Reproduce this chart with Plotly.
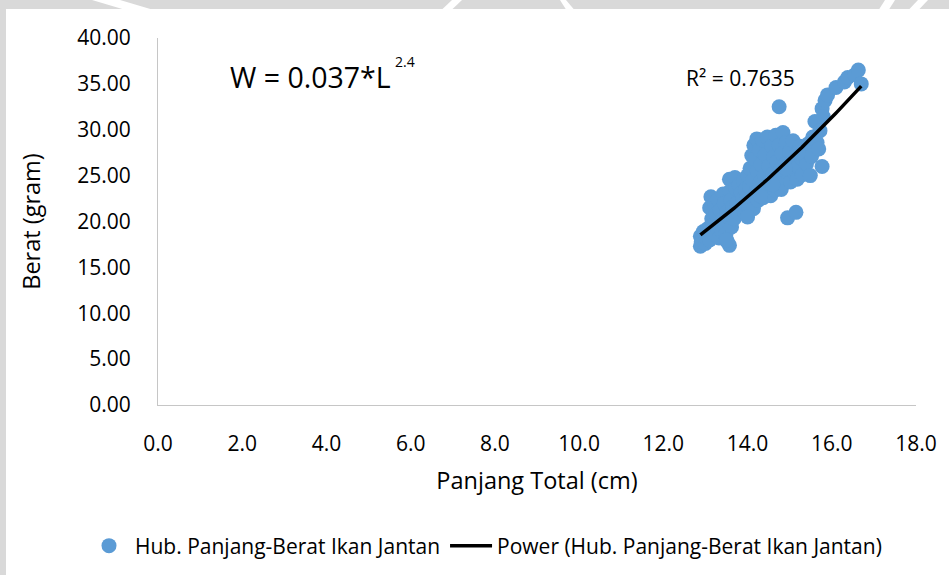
import plotly.graph_objects as go
import numpy as np

# ---- data ----
length_cm = [
    12.88, 12.88, 12.90, 12.95, 13.00, 13.02, 13.05, 13.10, 13.13, 13.10,
    13.15, 13.18, 13.20, 13.22, 13.25, 13.28, 13.30, 13.32, 13.35, 13.38,
    13.40, 13.42, 13.45, 13.47, 13.49, 13.50, 13.52, 13.55, 13.57, 13.57,
    13.58, 13.60, 13.62, 13.65, 13.68, 13.70, 13.72, 13.75, 13.78, 13.80,
    13.82, 13.85, 13.88, 13.90, 13.92, 13.95, 13.98, 14.00, 14.02, 14.05,
    14.06, 14.08, 14.10, 14.12, 14.14, 14.15, 14.18, 14.20, 14.22, 14.23,
    14.25, 14.28, 14.30, 14.32, 14.35, 14.37, 14.40, 14.42, 14.45, 14.47,
    14.50, 14.52, 14.55, 14.57, 14.60, 14.62, 14.65, 14.67, 14.70, 14.72,
    14.75, 14.75, 14.78, 14.80, 14.82, 14.84, 14.86, 14.90, 14.92, 14.95,
    14.96, 15.00, 15.02, 15.05, 15.08, 15.10, 15.15, 15.15, 15.18, 15.20,
    15.25, 15.28, 15.30, 15.35, 15.40, 15.45, 15.49, 15.52, 15.55, 15.60,
    15.65, 15.69, 15.72, 15.77, 15.77, 15.80, 15.84, 15.90, 16.10, 16.30,
    16.38, 16.55, 16.63, 16.70, 13.50, 14.00, 14.30, 14.60, 14.90, 15.20,
]
weight_g = [
    18.4, 17.3, 17.8, 18.9, 17.6, 18.2, 19.2, 18.0, 22.7, 21.5,
    20.3, 19.6, 18.6, 21.9, 20.8, 19.3, 22.4, 18.2, 21.2, 20.1,
    18.9, 23.0, 22.0, 19.7, 18.7, 21.0, 17.8, 20.5, 24.6, 17.4,
    23.3, 22.3, 19.4, 21.6, 20.3, 24.8, 23.6, 22.0, 20.9, 24.0,
    21.4, 23.1, 22.4, 24.4, 21.1, 23.5, 22.6, 25.0, 21.6, 23.8,
    25.8, 22.4, 27.2, 24.5, 21.4, 28.3, 26.8, 23.2, 29.0, 25.5,
    22.3, 27.8, 24.3, 26.2, 28.9, 22.6, 25.0, 27.3, 23.6, 29.2,
    26.0, 24.4, 22.8, 28.2, 25.2, 27.0, 23.4, 29.4, 26.5, 24.2,
    32.5, 28.3, 25.6, 23.5, 27.4, 29.7, 24.8, 26.3, 28.6, 20.4,
    25.2, 27.6, 24.3, 26.5, 28.8, 25.4, 21.0, 27.2, 24.6, 26.0,
    28.2, 26.9, 25.1, 27.8, 26.3, 28.5, 25.0, 27.1, 29.2, 30.9,
    28.6, 27.9, 29.9, 26.0, 32.3, 31.4, 33.2, 33.8, 34.6, 35.2,
    35.7, 36.0, 36.5, 35.0, 18.0, 20.5, 22.8, 24.0, 25.8, 27.5,
]
# power trendline coefficients (W = a * L^b)
TREND_A = 0.0382
TREND_B = 2.42

x_ticks = [0, 2, 4, 6, 8, 10, 12, 14, 16, 18]
y_ticks = [0, 5, 10, 15, 20, 25, 30, 35, 40]
x_tick_labels = [f"{v:.1f}" for v in x_ticks]
y_tick_labels = [f"{v:.2f}" for v in y_ticks]

series_name = "Hub. Panjang-Berat Ikan Jantan"
trend_name = "Power (Hub. Panjang-Berat Ikan Jantan)"
x_title = "Panjang Total (cm)"
y_title = "Berat (gram)"
equation_text = "W = 0.037*L"
equation_exp = "2.4"
r2_text = "R² = 0.7635"

# ---- layout geometry (pixels) ----
W_PX, H_PX = 949, 575
L_M, R_M, T_M, B_M = 158, 33, 38, 170
PW = W_PX - L_M - R_M
PH = H_PX - T_M - B_M


def px_x(px):
    return (px - L_M) / PW


def px_y(py):
    return (H_PX - B_M - py) / PH


FONT = "Open Sans"
BLUE = "#5B9BD5"
GRAY = "#d9d9d9"

fig = go.Figure()
fig.add_trace(go.Scatter(
    x=length_cm, y=weight_g, mode="markers", name=series_name,
    marker=dict(size=15, color=BLUE, line=dict(width=0)),
))
xs = np.linspace(min(length_cm), max(length_cm), 120)
fig.add_trace(go.Scatter(
    x=xs, y=TREND_A * xs ** TREND_B, mode="lines", name=trend_name,
    line=dict(color="black", width=3.5),
))

axis_common = dict(
    showgrid=False, zeroline=False, showline=True, linecolor="#c6c6c6",
    linewidth=1, ticks="", tickfont=dict(family=FONT, size=21, color="black"),
)
fig.update_xaxes(
    range=[0, 18], tickvals=x_ticks, ticktext=x_tick_labels,
    ticklabelstandoff=20,
    title=dict(text=x_title, font=dict(family=FONT, size=23.5, color="black"),
               standoff=16),
    **axis_common,
)
fig.update_yaxes(
    range=[0, 40], tickvals=y_ticks, ticktext=y_tick_labels,
    ticklabelstandoff=22,
    title=dict(text=y_title, font=dict(family=FONT, size=23.5, color="black"),
               standoff=30),
    **axis_common,
)

# background frame and watermark fragments
shapes = [
    dict(type="rect", xref="paper", yref="paper", layer="below",
         x0=px_x(0), x1=px_x(W_PX), y0=px_y(0), y1=px_y(9),
         fillcolor=GRAY, line=dict(width=0)),
    dict(type="rect", xref="paper", yref="paper", layer="below",
         x0=px_x(0), x1=px_x(6), y0=px_y(0), y1=px_y(H_PX),
         fillcolor=GRAY, line=dict(width=0)),
]
wm_polys = [
    [(92, 0), (120, 0), (152, 9.5), (124, 9.5)],
    [(452, 0), (462, 0), (452, 9.5), (442, 9.5)],
    [(560, 0), (566, 0), (574, 9.5), (566, 9.5)],
    [(885, 0), (895, 0), (889, 9.5), (879, 9.5)],
    [(918, 0), (928, 0), (919, 9.5), (909, 9.5)],
]
for poly in wm_polys:
    path = "M " + " L ".join(f"{px_x(a):.5f},{px_y(b):.5f}" for a, b in poly) + " Z"
    shapes.append(dict(type="path", xref="paper", yref="paper", layer="below",
                       path=path, fillcolor="white", line=dict(width=0)))

annotations = [
    dict(xref="paper", yref="paper", x=px_x(228), y=px_y(77), xanchor="left",
         yanchor="middle", text=equation_text, showarrow=False,
         font=dict(family=FONT, size=28.5, color="black")),
    dict(xref="paper", yref="paper", x=px_x(393), y=px_y(62), xanchor="left",
         yanchor="middle", text=equation_exp, showarrow=False,
         font=dict(family=FONT, size=14, color="black")),
    dict(xref="paper", yref="paper", x=px_x(684), y=px_y(78), xanchor="left",
         yanchor="middle", text=r2_text, showarrow=False,
         font=dict(family=FONT, size=21, color="black")),
]

fig.update_layout(
    width=W_PX, height=H_PX,
    margin=dict(l=L_M, r=R_M, t=T_M, b=B_M, autoexpand=False),
    paper_bgcolor="white", plot_bgcolor="white",
    showlegend=True,
    legend=dict(orientation="h", x=px_x(83), xanchor="left", xref="paper",
                y=px_y(546), yanchor="middle", yref="paper",
                font=dict(family=FONT, size=21, color="black"),
                itemwidth=42, tracegroupgap=0, bgcolor="rgba(0,0,0,0)"),
    shapes=shapes, annotations=annotations,
)

fig.write_html("out.html")
